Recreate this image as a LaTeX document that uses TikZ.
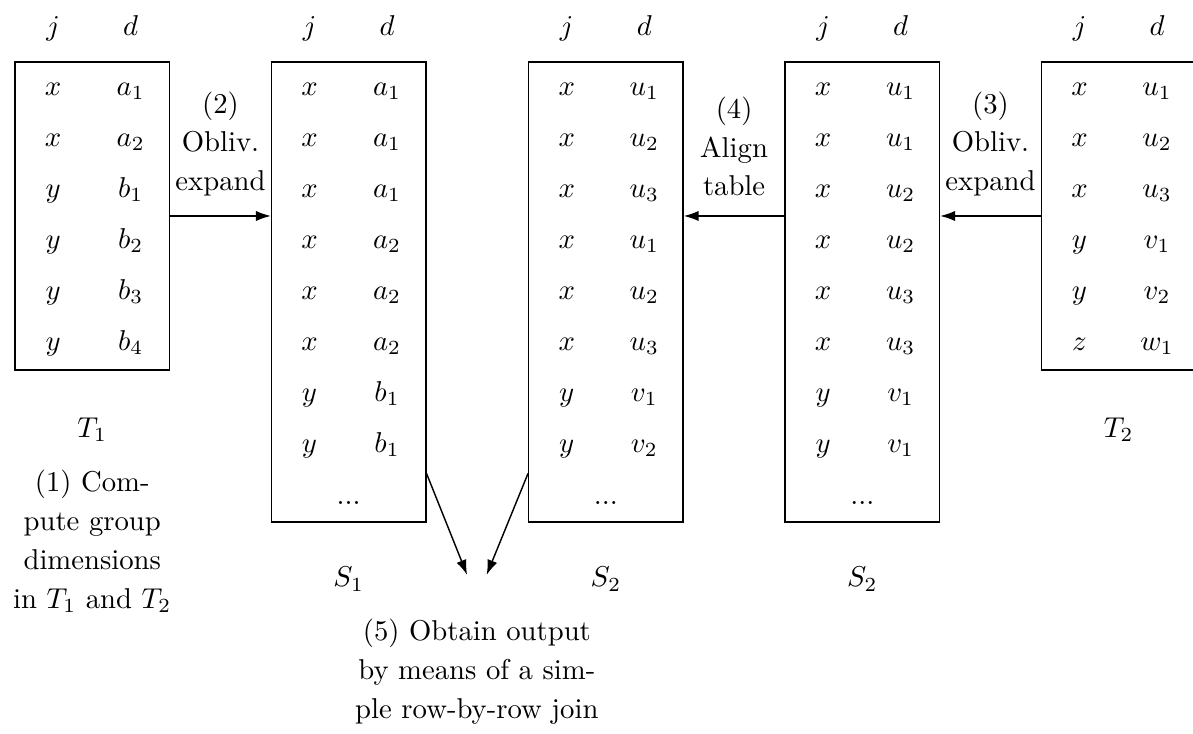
\documentclass[tikz,border=0pt]{standalone}
\usepackage{amsmath}
\usetikzlibrary{positioning,arrows.meta}

\begin{document}
\begin{tikzpicture}[line width=0.5pt,
    cell/.style={anchor=base},
    tbl/.style={draw, minimum width=1.89cm},
    note/.style={align=center, font=\fontsize{10}{13.5}\selectfont},
    >={Latex[length=5.2pt,width=3.6pt]}]
  \clip (0,0) rectangle (14.61,-8.98);

  % the five tables
  \node[tbl, minimum height=3.77cm] (t1) at (1.13,-2.645) {};
  \node[tbl, minimum height=5.63cm] (s1) at (4.27,-3.575) {};
  \node[tbl, minimum height=5.63cm] (s2a) at (7.42,-3.575) {};
  \node[tbl, minimum height=5.63cm] (s2b) at (10.56,-3.575) {};
  \node[tbl, minimum height=3.77cm] (t2) at (13.70,-2.645) {};

  % column heads
  \foreach \tname/\cx in {t1/1.13, s1/4.27, s2a/7.42, s2b/10.56, t2/13.70} {
    \node[cell] (\tname-hj) at ({\cx-0.48},-0.43) {$j$};
    \node[cell] (\tname-hd) at ({\cx+0.47},-0.43) {$d$};
  }

  % rows
  \foreach \j/\d [count=\r] in {x/a_1,x/a_2,y/b_1,y/b_2,y/b_3,y/b_4} {
    \node[cell] (t1-j\r) at (0.65,{-1.165-0.625*(\r-1)}) {$\j$};
    \node[cell] (t1-d\r) at (1.60,{-1.165-0.625*(\r-1)}) {$\d$};
  }
  \foreach \j/\d [count=\r] in {x/a_1,x/a_1,x/a_1,x/a_2,x/a_2,x/a_2,y/b_1,y/b_1} {
    \node[cell] (s1-j\r) at (3.79,{-1.165-0.625*(\r-1)}) {$\j$};
    \node[cell] (s1-d\r) at (4.74,{-1.165-0.625*(\r-1)}) {$\d$};
  }
  \foreach \j/\d [count=\r] in {x/u_1,x/u_2,x/u_3,x/u_1,x/u_2,x/u_3,y/v_1,y/v_2} {
    \node[cell] (s2a-j\r) at (6.94,{-1.165-0.625*(\r-1)}) {$\j$};
    \node[cell] (s2a-d\r) at (7.89,{-1.165-0.625*(\r-1)}) {$\d$};
  }
  \foreach \j/\d [count=\r] in {x/u_1,x/u_1,x/u_2,x/u_2,x/u_3,x/u_3,y/v_1,y/v_1} {
    \node[cell] (s2b-j\r) at (10.08,{-1.165-0.625*(\r-1)}) {$\j$};
    \node[cell] (s2b-d\r) at (11.03,{-1.165-0.625*(\r-1)}) {$\d$};
  }
  \foreach \j/\d [count=\r] in {x/u_1,x/u_2,x/u_3,y/v_1,y/v_2,z/w_1} {
    \node[cell] (t2-j\r) at (13.22,{-1.165-0.625*(\r-1)}) {$\j$};
    \node[cell] (t2-d\r) at (14.17,{-1.165-0.625*(\r-1)}) {$\d$};
  }
  \node[cell] (s1-dots) at (4.27,-6.18) {...};
  \node[cell] (s2a-dots) at (7.42,-6.18) {...};
  \node[cell] (s2b-dots) at (10.56,-6.18) {...};

  % table names
  \node[below=0.45cm of t1] (t1-name) {$T_1$};
  \node[below=0.45cm of t2] (t2-name) {$T_2$};
  \node[below=0.42cm of s1] (s1-name) {$S_1$};
  \node[below=0.42cm of s2a] (s2a-name) {$S_2$};
  \node[below=0.42cm of s2b] (s2b-name) {$S_2$};

  % steps
  \node[note, below=0.1cm of t1-name] (step1) {(1) Com-\\pute group\\dimensions\\in $T_1$ and $T_2$};
  \draw[->] (t1.east) -- (t1.east -| s1.west)
    node[note, midway, above=1.15mm] (step2) {(2)\\Obliv.\\expand};
  \draw[->] (t2.west) -- (t2.west -| s2b.east)
    node[note, midway, above=1.15mm] (step3) {(3)\\Obliv.\\expand};
  \draw[->] (t2.west -| s2b.west) -- (t2.west -| s2a.east)
    node[note, midway, above=1.15mm] (step4) {(4)\\Align\\table};
  \node[note, anchor=north] (step5) at (5.84,-7.46) {(5) Obtain output\\by means of a sim-\\ple row-by-row join};
  \coordinate (join1) at (5.72,-7.04);
  \coordinate (join2) at (5.96,-7.04);
  \draw[->] ([yshift=0.6cm]s1.south east) -- (join1);
  \draw[->] ([yshift=0.6cm]s2a.south west) -- (join2);
\end{tikzpicture}
\end{document}
